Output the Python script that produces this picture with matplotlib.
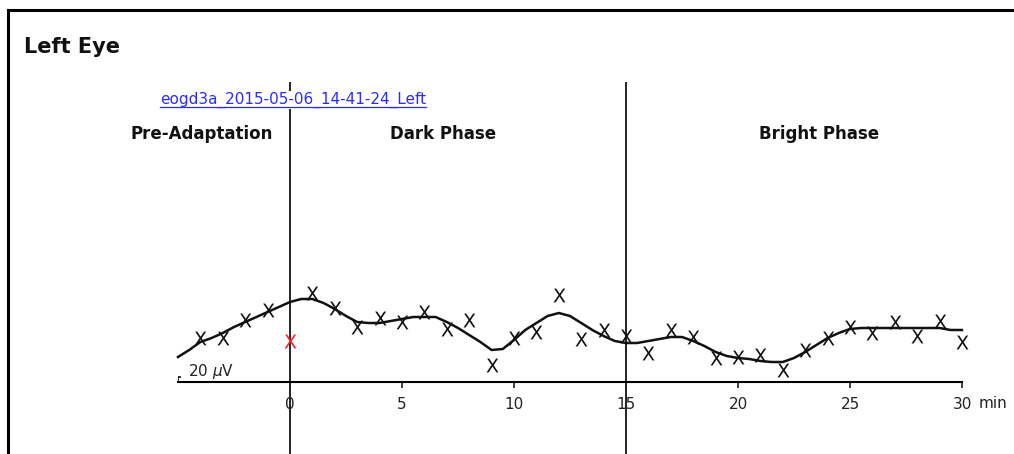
import matplotlib
matplotlib.use("Agg")
import matplotlib.pyplot as plt
from matplotlib.lines import Line2D
from matplotlib.transforms import IdentityTransform

# measured points, one per minute (uV); minute 0 is the rejected sample
minutes = list(range(-4, 31))
amplitude = [176, 176, 248, 288, 164, 356, 296, 220, 256, 240, 280, 212, 248, 68,
             176, 200, 348, 172, 208, 184, 116, 208, 180, 96, 100, 108, 48, 128,
             176, 220, 196, 240, 184, 244, 160]
rejected = [0]

# fitted curve, every half minute (uV)
fit_t = [i * 0.5 for i in range(-10, 61)]
fit_uv = [100, 128, 160, 176, 196, 220, 240, 260, 280, 300, 320, 332, 332, 316,
          292, 264, 240, 236, 236, 244, 252, 260, 260, 260, 240, 216, 188, 160,
          128, 132, 168, 208, 236, 264, 276, 264, 236, 208, 184, 164, 156, 156,
          164, 172, 180, 180, 164, 144, 120, 104, 96, 92, 84, 80, 80, 96, 120,
          148, 176, 196, 212, 216, 216, 216, 216, 216, 216, 216, 216, 208, 208]

phase_edges = [0, 15]
phases = ["Pre-Adaptation", "Dark Phase", "Bright Phase"]
phase_label_x = [-3.95, 6.85, 23.6]
ticks = [0, 5, 10, 15, 20, 25, 30]
scale_uv = 20
record_name = "eogd3a_2015-05-06_14-41-24_Left"

W, H = 1014, 454
fig = plt.figure(figsize=(W / 100, H / 100), dpi=100)
fig.patch.set_facecolor("white")

# axes spans -5..30 min horizontally, 4 uV per pixel vertically
ax = fig.add_axes([178 / W, 0, 784 / W, (H - 82) / H])
ax.set_xlim(-5, 30)
ax.set_ylim(-(H - 382) * 4, (382 - 82) * 4)
ax.patch.set_alpha(0)
for s in ["left", "right", "top"]:
    ax.spines[s].set_visible(False)
ax.spines["bottom"].set_position(("data", 0))
ax.spines["bottom"].set_linewidth(1.5)
ax.set_yticks([])
ax.set_xticks(ticks)
ax.set_xticklabels([str(t) for t in ticks])
ax.tick_params(axis="x", direction="out", length=4, width=1.2, pad=7, labelsize=11,
               colors="#222222")

# phase boundaries
for x in phase_edges:
    ax.axvline(x, ymin=0, ymax=1, color="#111111", lw=1.3, zorder=1)

for name, x in zip(phases, phase_label_x):
    ax.text(x, (382 - 134) * 4, name, ha="center", va="center", fontsize=12,
            fontweight="bold", color="#111111")

# fitted curve and measurements
ax.plot(fit_t, fit_uv, color="#111111", lw=1.8, zorder=3, clip_on=False,
        solid_joinstyle="round")
good_t = [t for t in minutes if t not in rejected]
good_v = [v for t, v in zip(minutes, amplitude) if t not in rejected]
bad_t = [t for t in minutes if t in rejected]
bad_v = [v for t, v in zip(minutes, amplitude) if t in rejected]
ax.plot(good_t, good_v, ls="none", marker=r"$\mathsf{X}$", ms=10, mew=0,
        color="#111111", zorder=4, clip_on=False)
ax.plot(bad_t, bad_v, ls="none", marker=r"$\mathsf{X}$", ms=10, mew=0,
        color="#ff2020", zorder=4, clip_on=False)

# amplitude scale bar
ax.vlines(-5, 0, scale_uv, color="#111111", lw=1.2)
ax.hlines(scale_uv, -5.12, -4.88, color="#111111", lw=1.2)
ax.annotate(r"20 $\mu$V", xy=(-5, 0), xytext=(7, 1), textcoords="offset points",
            ha="left", va="bottom", fontsize=11, color="#222222")
ax.annotate("min", xy=(30, 0), xytext=(12, -15.6), textcoords="offset points",
            ha="left", va="center", fontsize=11, color="#222222",
            annotation_clip=False)

# title and record link
fig.text(24 / W, 1 - 47 / H, "Left Eye", ha="left", va="center", fontsize=15,
         fontweight="bold", color="#111111")
link = fig.text(293 / W, 1 - 100 / H, record_name, ha="center", va="center",
                fontsize=11, color="#2b2bff", zorder=5,
                bbox=dict(facecolor="white", edgecolor="none", pad=1))
fig.canvas.draw()
bb = link.get_window_extent()
fig.add_artist(Line2D([bb.x0, bb.x1], [bb.y0 + 1, bb.y0 + 1], lw=0.9,
                      color="#2b2bff", transform=IdentityTransform(), zorder=6))

# frame: top and left edge only
fig.add_artist(Line2D([8 / W, 1], [1 - 10 / H, 1 - 10 / H], lw=2.2, color="black"))
fig.add_artist(Line2D([8 / W, 8 / W], [0, 1 - 10 / H], lw=2.2, color="black"))

fig.savefig("out.png", dpi=100)
